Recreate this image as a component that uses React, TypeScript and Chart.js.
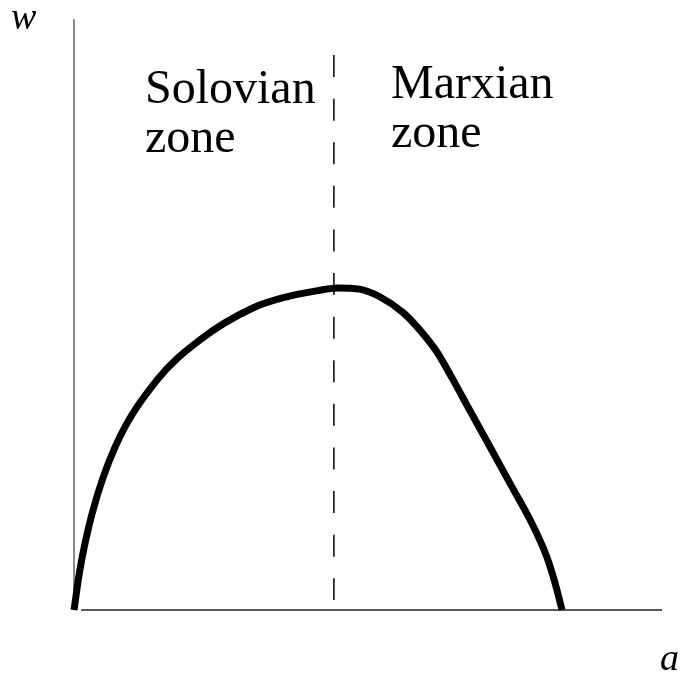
import React, { useEffect, useRef } from "react";
import { Chart, registerables } from "chart.js";

Chart.register(...registerables);

// Curve: wage w versus a (axes scaled 0..100)
const curveA = [0, 1.0, 3.1, 7.0, 14.1, 21.4, 30.4, 36.2, 41.8, 44.7, 48.6, 52.0, 56.0, 58.8, 61.7, 64.5, 67.3, 71.3, 74.1, 77.6, 80.4, 81.8, 83.0];
const curveW = [0, 6.8, 16.4, 27.6, 38.9, 45.7, 51.1, 53.0, 54.1, 54.5, 54.3, 53.0, 50.3, 47.4, 43.7, 38.9, 33.8, 26.6, 21.5, 15.2, 9.0, 4.6, 0];

// Dashed divider between zones
const dividerA = [44.2, 44.2];
const dividerW = [93.9, 1.7];

// Axes
const yAxisA = [0, 0];
const yAxisW = [0, 100];
const xAxisA = [1.2, 100];
const xAxisW = [0, 0];

const zoneLeft = ["Solovian", "zone"];
const zoneRight = ["Marxian", "zone"];
const yLabel = "w";
const xLabel = "a";

const SERIF = '"Liberation Serif", Tinos, "Times New Roman", "DejaVu Serif", serif';

const toPts = (xs: number[], ys: number[]) => xs.map((x, i) => ({ x, y: ys[i] }));

export default function App() {
  const ref = useRef<HTMLCanvasElement>(null);
  useEffect(() => {
    if (!ref.current) return;
    const textPlugin = {
      id: "texts",
      afterDraw(chart: any) {
        const ctx = chart.ctx;
        ctx.save();
        ctx.fillStyle = "#000";
        ctx.textBaseline = "alphabetic";
        ctx.textAlign = "left";
        ctx.font = `48px ${SERIF}`;
        ctx.fillText(zoneLeft[0], 145, 103);
        ctx.fillText(zoneLeft[1], 145, 152);
        ctx.fillText(zoneRight[0], 391, 98);
        ctx.fillText(zoneRight[1], 391, 147);
        ctx.font = `italic 38px ${SERIF}`;
        ctx.fillText(yLabel, 11, 29);
        ctx.fillText(xLabel, 660, 670);
        ctx.restore();
      },
    };
    const chart = new Chart(ref.current, {
      type: "line",
      data: {
        datasets: [
          {
            data: toPts(curveA, curveW),
            borderColor: "#000",
            borderWidth: 7,
            pointRadius: 0,
            cubicInterpolationMode: "monotone",
            borderCapStyle: "butt",
            clip: false as any,
          },
          {
            data: toPts(dividerA, dividerW),
            borderColor: "#000",
            borderWidth: 1.5,
            borderDash: [22, 21.6],
            pointRadius: 0,
            clip: false as any,
          },
          {
            data: toPts(yAxisA, yAxisW),
            borderColor: "#8a8a8a",
            borderWidth: 2,
            pointRadius: 0,
            clip: false as any,
          },
          {
            data: toPts(xAxisA, xAxisW),
            borderColor: "#222",
            borderWidth: 1.5,
            pointRadius: 0,
            clip: false as any,
          },
        ],
      },
      options: {
        responsive: false,
        animation: false,
        devicePixelRatio: 1,
        layout: { padding: { left: 74, right: 24, top: 19, bottom: 66 } },
        plugins: { legend: { display: false }, tooltip: { enabled: false } },
        scales: {
          x: { type: "linear", min: 0, max: 100, display: false },
          y: { type: "linear", min: 0, max: 100, display: false },
        },
      },
      plugins: [textPlugin],
    } as any);
    let alive = true;
    const fonts: any = (document as any).fonts;
    if (fonts && fonts.load) {
      Promise.all([
        fonts.load(`48px ${SERIF}`, "Solovian zone Marxian"),
        fonts.load(`italic 38px ${SERIF}`, "wa"),
      ])
        .then(() => {
          if (alive) chart.draw();
        })
        .catch(() => {});
    }
    return () => {
      alive = false;
      chart.destroy();
    };
  }, []);
  return (
    <div style={{ position: "absolute", left: 0, top: 0, width: 686, height: 676, background: "#fff" }}>
      <span style={{ position: "absolute", left: -9999, fontFamily: SERIF }}>Solovian</span>
      <span style={{ position: "absolute", left: -9999, fontFamily: SERIF, fontStyle: "italic" }}>wa</span>
      <canvas ref={ref} width={686} height={676} style={{ display: "block" }} />
    </div>
  );
}
